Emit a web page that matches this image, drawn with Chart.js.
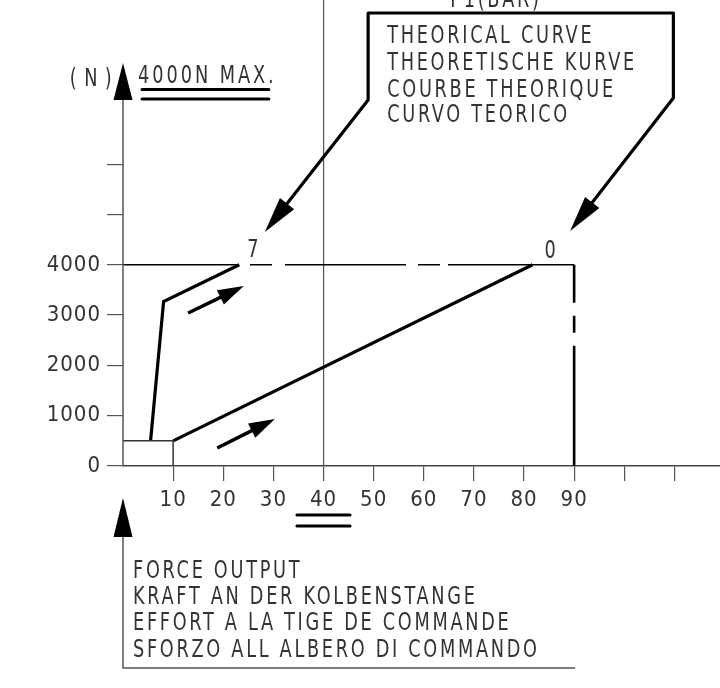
<!DOCTYPE html>
<html><head><meta charset="utf-8">
<style>html,body{margin:0;padding:0;background:#fff;} canvas{display:block;}</style>
<script src="https://cdn.jsdelivr.net/npm/chart.js@4.4.1/dist/chart.umd.min.js"></script>
</head><body>
<canvas id="c" width="720" height="688"></canvas>
<script>
// ---- data ----
const xTicks = [0,10,20,30,40,50,60,70,80,90,100,110];
const xTickLabels = ['','10','20','30','40','50','60','70','80','90','',''];
const yTicks = [0,1000,2000,3000,4000,5000,6000];
const yTickLabels = ['0','1000','2000','3000','4000','',''];
const curve7X = [5.5, 8.1, 23.2];
const curve7Y = [500, 3270, 4000];
const curve0X = [10, 81.7];
const curve0Y = [500, 4000];
const maxForceX = [0, 90];
const maxForceY = [4000, 4000];
const stopX = [90, 90];
const stopY = [4000, 0];
const startBoxX = [0, 10, 10];
const startBoxY = [500, 500, 0];
const curveNames = ['7', '0'];
const calloutLines = ['THEORICAL CURVE','THEORETISCHE KURVE','COURBE THEORIQUE','CURVO TEORICO'];
const axisTitleLines = ['FORCE OUTPUT','KRAFT AN DER KOLBENSTANGE','EFFORT A LA TIGE DE COMMANDE','SFORZO ALL ALBERO DI COMMANDO'];
const yUnit = '(N)';
const maxNote = '4000N MAX.';
const pressureLabel = 'P1(BAR)';
const highlightX = 40;

const FONT = '"DejaVu Sans Condensed", "DejaVu Sans", sans-serif';
const FS = 22;
const TXT = '#333';

const pts = (xs, ys) => xs.map((x, i) => ({x, y: ys[i]}));

function head(ctx, x1, y1, x2, y2, len, half) {
  const a = Math.atan2(y2 - y1, x2 - x1), c = Math.cos(a), s = Math.sin(a);
  ctx.beginPath();
  ctx.moveTo(x2, y2);
  ctx.lineTo(x2 - len*c + half*s, y2 - len*s - half*c);
  ctx.lineTo(x2 - len*c - half*s, y2 - len*s + half*c);
  ctx.closePath();
  ctx.fill();
  return [x2 - len*0.8*c, y2 - len*0.8*s];
}

// narrow "drafting" text: taller font squeezed horizontally, with wider letter gaps
function draftText(ctx, t, x, y, align, ls) {
  ctx.save();
  ctx.translate(x, y);
  ctx.scale(0.82, 1);
  ctx.font = '24px ' + FONT;
  ctx.letterSpacing = (ls == null ? 3.3 : ls) + 'px';
  ctx.textAlign = align || 'left';
  ctx.textBaseline = 'alphabetic';
  ctx.fillText(t, 0, 0);
  ctx.restore();
}

const deco = {
  id: 'deco',
  beforeDraw(chart) {
    const c = chart.ctx;
    c.save(); c.fillStyle = '#fff'; c.fillRect(0, 0, chart.width, chart.height); c.restore();
    c.letterSpacing = '1px';
  },
  afterDraw(chart) {
    const ctx = chart.ctx, xs = chart.scales.x, ys = chart.scales.y;
    const X = v => xs.getPixelForValue(v), Y = v => ys.getPixelForValue(v);
    ctx.save();
    ctx.fillStyle = '#000'; ctx.strokeStyle = '#000';

    // y axis line + arrow
    ctx.strokeStyle = '#555'; ctx.lineWidth = 1.5;
    ctx.beginPath(); ctx.moveTo(X(0), Y(0)); ctx.lineTo(X(0), Y(7276)); ctx.stroke();
    ctx.fillStyle = '#000';
    ctx.beginPath(); ctx.moveTo(X(0), Y(8012)); ctx.lineTo(X(0) + 9.5, Y(7276)); ctx.lineTo(X(0) - 9.5, Y(7276)); ctx.closePath(); ctx.fill();

    // bottom arrow + leader
    ctx.strokeStyle = '#555'; ctx.lineWidth = 1.5;
    ctx.beginPath(); ctx.moveTo(X(0), Y(-1411)); ctx.lineTo(X(0), Y(-4016)); ctx.lineTo(X(90.2), Y(-4016)); ctx.stroke();
    ctx.beginPath(); ctx.moveTo(X(0), Y(-636)); ctx.lineTo(X(0) + 9.5, Y(-1411)); ctx.lineTo(X(0) - 9.5, Y(-1411)); ctx.closePath(); ctx.fill();

    // double underlines
    ctx.strokeStyle = '#000'; ctx.lineWidth = 3; ctx.lineCap = 'round';
    [7485, 7296].forEach(v => { ctx.beginPath(); ctx.moveTo(X(3.8), Y(v)); ctx.lineTo(X(29.1), Y(v)); ctx.stroke(); });
    [-974, -1193].forEach(v => { ctx.beginPath(); ctx.moveTo(X(34.7), Y(v)); ctx.lineTo(X(45.3), Y(v)); ctx.stroke(); });

    // callout polyline with arrows
    ctx.lineCap = 'butt'; ctx.lineJoin = 'round'; ctx.lineWidth = 3.2;
    const tipL = [X(28.3), Y(4652)], cL = [X(48.9), Y(7276)], tL = [X(48.9), Y(9006)];
    const tR = [X(109.8), Y(9006)], cR = [X(109.8), Y(7316)], tipR = [X(89.2), Y(4672)];
    const bL = head(ctx, cL[0], cL[1], tipL[0], tipL[1], 36, 9);
    const bR = head(ctx, cR[0], cR[1], tipR[0], tipR[1], 36, 9);
    ctx.beginPath();
    ctx.moveTo(bL[0], bL[1]); ctx.lineTo(cL[0], cL[1]); ctx.lineTo(tL[0], tL[1]);
    ctx.lineTo(tR[0], tR[1]); ctx.lineTo(cR[0], cR[1]); ctx.lineTo(bR[0], bR[1]);
    ctx.stroke();

    // flow arrows
    ctx.lineWidth = 3.5;
    [[13.0, 3042, 24.1, 3578], [18.8, 358, 30.3, 934]].forEach(a => {
      const b = head(ctx, X(a[0]), Y(a[1]), X(a[2]), Y(a[3]), 26, 8);
      ctx.beginPath(); ctx.moveTo(X(a[0]), Y(a[1])); ctx.lineTo(b[0], b[1]); ctx.stroke();
    });

    // texts
    ctx.fillStyle = TXT;
    calloutLines.forEach((t, i) => draftText(ctx, t, X(52.7), Y([8410, 7880, 7345, 6840][i])));
    axisTitleLines.forEach((t, i) => draftText(ctx, t, X(2.0), Y([-2227, -2743, -3260, -3797][i])));
    draftText(ctx, maxNote, X(3.0), Y(7614), 'left', 3.6);
    draftText(ctx, yUnit, X(-10.6), Y(7554), 'left', 9);
    draftText(ctx, pressureLabel, X(74.4), Y(9125), 'center');
    draftText(ctx, curveNames[0], X(25.9), Y(4155), 'center', 0);
    draftText(ctx, curveNames[1], X(85.2), Y(4135), 'center', 0);

    ctx.restore();
    ctx.letterSpacing = '0px';
  }
};

const lineDs = (data, w, color, dash) => ({
  data, showLine: true, borderColor: color, borderWidth: w, pointRadius: 0,
  borderDash: dash || [], tension: 0, fill: false, clip: false, borderCapStyle: 'butt'
});

new Chart(document.getElementById('c'), {
  type: 'scatter',
  data: {
    datasets: [
      lineDs(pts(startBoxX, startBoxY), 1.5, '#333'),
      lineDs(pts(maxForceX, maxForceY), 1.5, '#000', [116, 11, 22, 13, 121, 12, 22, 8, 300]),
      lineDs(pts(stopX, stopY), 2.6, '#000', [38, 13, 17, 13, 300]),
      lineDs(pts(curve7X, curve7Y), 3.2, '#000'),
      lineDs(pts(curve0X, curve0Y), 3.2, '#000')
    ]
  },
  options: {
    responsive: false,
    animation: false,
    layout: { padding: 0 },
    plugins: { legend: { display: false }, tooltip: { enabled: false } },
    scales: {
      x: {
        type: 'linear', min: 0, max: 119.1,
        afterBuildTicks: s => { s.ticks = xTicks.map(v => ({value: v})); },
        afterFit: s => { s.height = 222; s.paddingLeft = 0; s.paddingRight = 0; },
        border: { display: true, color: '#444', width: 1.5 },
        grid: {
          drawOnChartArea: true, tickLength: 15, lineWidth: 1.2,
          color: c => (c.tick && c.tick.value === highlightX) ? '#555' : 'rgba(0,0,0,0)',
          tickColor: c => (c.tick && c.tick.value === 0) ? 'rgba(0,0,0,0)' : '#555'
        },
        ticks: {
          autoSkip: false, maxRotation: 0, minRotation: 0, padding: 6, color: TXT,
          font: { family: FONT, size: FS },
          callback: v => { const i = xTicks.indexOf(v); return i >= 0 ? xTickLabels[i] : ''; }
        }
      },
      y: {
        type: 'linear', min: 0, max: 9264,
        afterBuildTicks: s => { s.ticks = yTicks.map(v => ({value: v})); },
        afterFit: s => { s.width = 123; s.paddingTop = 0; s.paddingBottom = 0; },
        border: { display: false },
        grid: { drawOnChartArea: false, tickLength: 16, lineWidth: 1.2, tickColor: '#555', color: '#555' },
        ticks: {
          autoSkip: false, padding: 6, color: TXT,
          font: { family: FONT, size: FS },
          callback: v => { const i = yTicks.indexOf(v); return i >= 0 ? yTickLabels[i] : ''; }
        }
      }
    }
  },
  plugins: [deco]
});
</script>
</body></html>
